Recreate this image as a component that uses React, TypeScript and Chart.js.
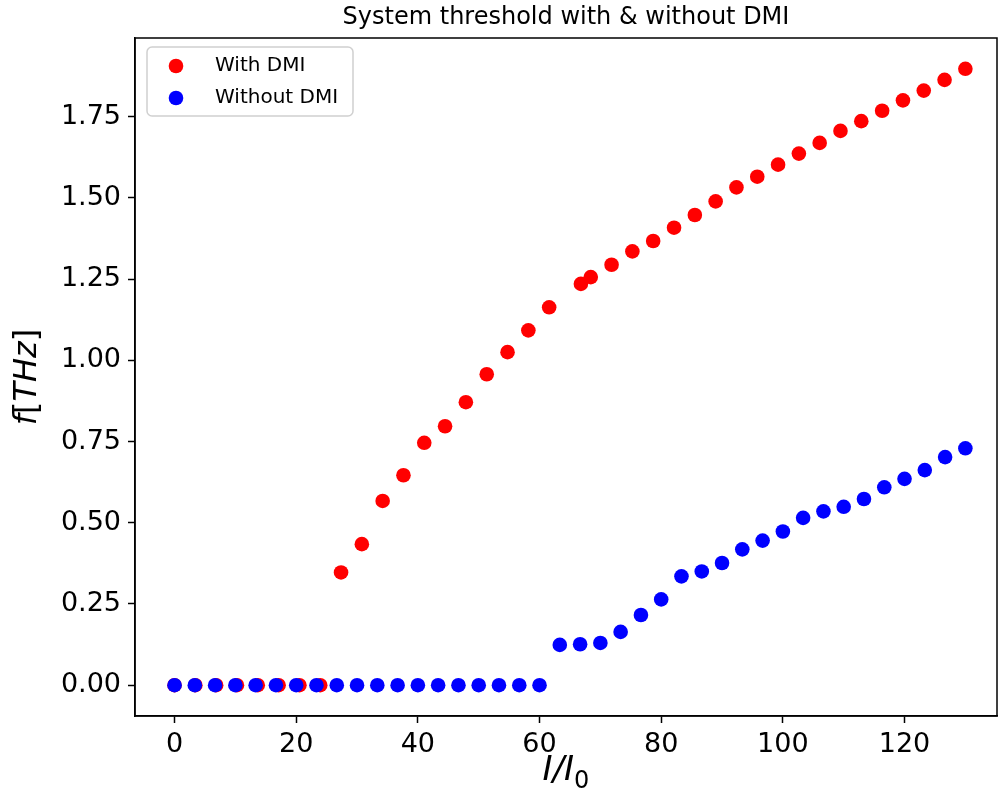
import { useEffect, useRef } from 'react';
import { Chart, registerables } from 'chart.js';

Chart.register(...registerables);

const TITLE = 'System threshold with & without DMI';
const SERIES_NAMES = ['With DMI', 'Without DMI'];
const SERIES_COLORS = ['#ff0000', '#0000ff'];

const xTicks = [0, 20, 40, 60, 80, 100, 120];
const yTicks = [0, 0.25, 0.5, 0.75, 1.0, 1.25, 1.5, 1.75];
const xLimits = [-6.5, 135.2];

const withDmiX = [
  0, 3.42, 6.84, 10.26, 13.68, 17.11, 20.53, 23.95, 27.37, 30.79, 34.21, 37.63, 41.05,
  44.47, 47.89, 51.32, 54.74, 58.16, 61.58, 66.8, 68.42, 71.84, 75.26, 78.68, 82.11,
  85.53, 88.95, 92.37, 95.79, 99.21, 102.63, 106.05, 109.47, 112.89, 116.32, 119.74,
  123.16, 126.58, 130,
];
const withDmiY = [
  0, 0, 0, 0, 0, 0, 0, 0, 0.347, 0.434, 0.567, 0.646, 0.746, 0.797, 0.871, 0.957, 1.025,
  1.092, 1.163, 1.235, 1.256, 1.294, 1.335, 1.367, 1.408, 1.447, 1.489, 1.532, 1.565,
  1.602, 1.636, 1.669, 1.706, 1.736, 1.768, 1.8, 1.83, 1.863, 1.897,
];

const withoutDmiX = [
  0, 3.33, 6.67, 10, 13.33, 16.67, 20, 23.33, 26.67, 30, 33.33, 36.67, 40, 43.33, 46.67,
  50, 53.33, 56.67, 60, 63.33, 66.67, 70, 73.33, 76.67, 80, 83.33, 86.67, 90, 93.33,
  96.67, 100, 103.33, 106.67, 110, 113.33, 116.67, 120, 123.33, 126.67, 130,
];
const withoutDmiY = [
  0, 0, 0, 0, 0, 0, 0, 0, 0, 0, 0, 0, 0, 0, 0, 0, 0, 0, 0, 0.124, 0.126, 0.13, 0.164,
  0.216, 0.264, 0.335, 0.35, 0.376, 0.418, 0.445, 0.473, 0.515, 0.535, 0.549, 0.573,
  0.609, 0.635, 0.662, 0.702, 0.729,
];

const FONT = '"DejaVu Sans", "Liberation Sans", sans-serif';

function pad(lo: number, hi: number) {
  const m = (hi - lo) * 0.05;
  return [lo - m, hi + m];
}

function drawPieces(ctx: CanvasRenderingContext2D, pieces: { t: string; f: string; dy?: number }[], cx: number, baseline: number) {
  let total = 0;
  for (const p of pieces) {
    ctx.font = p.f;
    total += ctx.measureText(p.t).width;
  }
  let x = cx - total / 2;
  ctx.textAlign = 'left';
  ctx.textBaseline = 'alphabetic';
  for (const p of pieces) {
    ctx.font = p.f;
    ctx.fillText(p.t, x, baseline + (p.dy || 0));
    x += ctx.measureText(p.t).width;
  }
}

const decorPlugin = {
  id: 'decor',
  afterDraw(chart: any) {
    const { ctx, chartArea: a } = chart;
    ctx.save();
    ctx.strokeStyle = '#000';
    ctx.lineWidth = 1.5;
    ctx.strokeRect(a.left, a.top, a.right - a.left, a.bottom - a.top);
    ctx.fillStyle = '#000';
    const cx = (a.left + a.right) / 2;
    ctx.font = `24px ${FONT}`;
    ctx.textAlign = 'center';
    ctx.textBaseline = 'alphabetic';
    ctx.fillText(TITLE, cx, 24);
    // x label  I/I_0
    drawPieces(
      ctx,
      [
        { t: 'I/I', f: `italic 34px ${FONT}` },
        { t: '0', f: `24px ${FONT}`, dy: 8 },
      ],
      cx,
      780
    );
    // y label f[THz]
    ctx.save();
    ctx.translate(36, (a.top + a.bottom) / 2);
    ctx.rotate(-Math.PI / 2);
    drawPieces(
      ctx,
      [
        { t: 'f', f: `italic 32px ${FONT}` },
        { t: '[', f: `32px ${FONT}` },
        { t: 'THz', f: `italic 32px ${FONT}` },
        { t: ']', f: `32px ${FONT}` },
      ],
      0,
      0
    );
    ctx.restore();
    // legend
    const lx = a.left + 12, ly = a.top + 9, lw = 206, lh = 69, r = 5;
    ctx.beginPath();
    ctx.moveTo(lx + r, ly);
    ctx.arcTo(lx + lw, ly, lx + lw, ly + lh, r);
    ctx.arcTo(lx + lw, ly + lh, lx, ly + lh, r);
    ctx.arcTo(lx, ly + lh, lx, ly, r);
    ctx.arcTo(lx, ly, lx + lw, ly, r);
    ctx.closePath();
    ctx.fillStyle = 'rgba(255,255,255,0.8)';
    ctx.fill();
    ctx.strokeStyle = '#d0d0d0';
    ctx.lineWidth = 1.5;
    ctx.stroke();
    chart.data.datasets.forEach((ds: any, i: number) => {
      const y = ly + 19 + i * 32;
      ctx.beginPath();
      ctx.arc(lx + 29, y, 7.3, 0, Math.PI * 2);
      ctx.fillStyle = ds.backgroundColor;
      ctx.fill();
      ctx.fillStyle = '#000';
      ctx.font = `20px ${FONT}`;
      ctx.textAlign = 'left';
      ctx.textBaseline = 'middle';
      ctx.fillText(ds.label, lx + 68, y);
    });
    ctx.restore();
  },
};

export default function App() {
  const ref = useRef<HTMLCanvasElement | null>(null);
  useEffect(() => {
    if (!ref.current) return;
    const allY = [...withDmiY, ...withoutDmiY];
    const [ymin, ymax] = pad(Math.min(...allY), Math.max(...allY));
    const chart = new Chart(ref.current, {
      type: 'scatter',
      data: {
        datasets: [
          {
            label: SERIES_NAMES[0],
            data: withDmiX.map((x, i) => ({ x, y: withDmiY[i] })),
            backgroundColor: SERIES_COLORS[0],
            borderWidth: 0,
            pointRadius: 7.3,
            order: 2,
          },
          {
            label: SERIES_NAMES[1],
            data: withoutDmiX.map((x, i) => ({ x, y: withoutDmiY[i] })),
            backgroundColor: SERIES_COLORS[1],
            borderWidth: 0,
            pointRadius: 7.3,
            order: 1,
          },
        ],
      },
      options: {
        responsive: false,
        animation: false,
        layout: { autoPadding: false, padding: { top: 38, right: 1, left: 0, bottom: 0 } },
        plugins: { legend: { display: false }, tooltip: { enabled: false }, title: { display: false } },
        scales: {
          x: {
            type: 'linear',
            min: xLimits[0],
            max: xLimits[1],
            afterBuildTicks: (s: any) => {
              s.ticks = xTicks.map((v) => ({ value: v }));
            },
            afterFit: (s: any) => {
              s.height = 88;
              s.paddingLeft = 0;
              s.paddingRight = 0;
            },
            grid: { drawOnChartArea: false, drawTicks: true, tickLength: 7, tickWidth: 1.5, tickColor: '#000' },
            border: { display: true, color: '#000', width: 1.5 },
            ticks: {
              color: '#000',
              padding: 6,
              maxRotation: 0,
              autoSkip: false,
              font: { family: FONT, size: 27 },
              callback: (v: any) => String(v),
            },
          },
          y: {
            type: 'linear',
            min: ymin,
            max: ymax,
            afterBuildTicks: (s: any) => {
              s.ticks = yTicks.map((v) => ({ value: v }));
            },
            afterFit: (s: any) => {
              s.width = 135;
              s.paddingTop = 0;
              s.paddingBottom = 0;
            },
            grid: { drawOnChartArea: false, drawTicks: true, tickLength: 7, tickWidth: 1.5, tickColor: '#000' },
            border: { display: true, color: '#000', width: 1.5 },
            ticks: {
              color: '#000',
              padding: 7,
              autoSkip: false,
              font: { family: FONT, size: 27 },
              callback: (v: any) => Number(v).toFixed(2),
            },
          },
        },
      },
      plugins: [decorPlugin],
    });
    return () => chart.destroy();
  }, []);
  return (
    <div style={{ position: 'absolute', left: 0, top: 0, width: 998, height: 804, background: '#fff' }}>
      <canvas ref={ref} width={998} height={804} style={{ width: 998, height: 804 }} />
    </div>
  );
}
